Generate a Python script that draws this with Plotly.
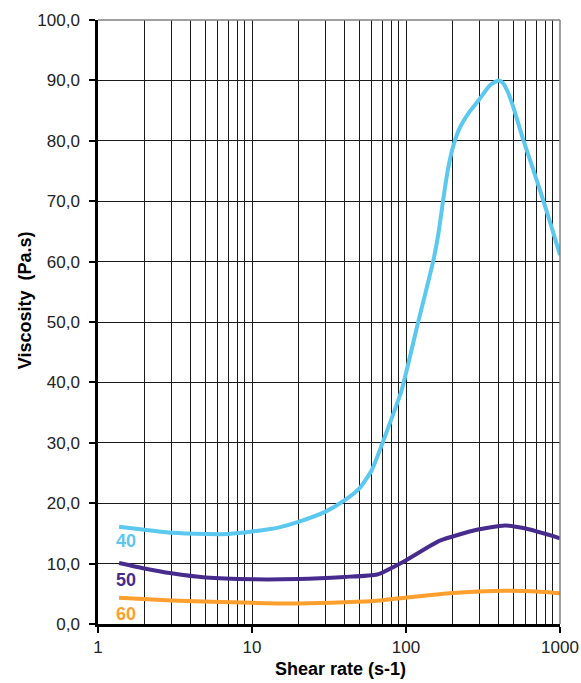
import plotly.graph_objects as go
import math

# ---- data ----
x40 = [1.37, 2, 3, 5, 7, 10, 15, 20, 30, 40, 50, 60, 70, 80, 93.7, 120, 150, 162, 175, 188, 203, 225, 255, 298, 351, 400, 425, 460, 497, 578, 671, 779, 880, 1000]
y40 = [16.1, 15.6, 15.1, 14.9, 14.9, 15.3, 16.0, 16.9, 18.6, 20.5, 22.5, 25.5, 29.8, 33.8, 38.7, 50.0, 60.0, 64.5, 70.5, 75.5, 79.2, 82.3, 84.6, 86.8, 89.2, 90.0, 89.6, 88.0, 85.6, 80.1, 75.2, 70.1, 65.8, 61.1]

x50 = [1.37, 2, 3, 5, 10, 20, 40, 65, 96, 166, 288, 439, 600, 1000]
y50 = [10.1, 9.2, 8.4, 7.7, 7.4, 7.45, 7.8, 8.2, 10.3, 13.8, 15.6, 16.3, 15.8, 14.2]

x60 = [1.37, 3, 10, 20, 40, 68, 101, 192, 450, 700, 1000]
y60 = [4.35, 3.9, 3.5, 3.4, 3.6, 3.9, 4.4, 5.1, 5.5, 5.4, 5.1]

series_names = ["40", "50", "60"]
label_y = [13.8, 7.3, 1.7]
colors = ["#5BC8F0", "#472C8E", "#FF9F2E"]

y_ticks = [0, 10, 20, 30, 40, 50, 60, 70, 80, 90, 100]
y_ticktext = [f"{v:.1f}".replace(".", ",") for v in y_ticks]
x_major = [1, 10, 100, 1000]
x_minor = [m * d for d in (1, 10, 100) for m in range(2, 10)]

FONT = "Liberation Sans, Arial, sans-serif"

fig = go.Figure()
for xs, ys, c, n in zip([x40, x50, x60], [y40, y50, y60], colors, series_names):
    fig.add_trace(go.Scatter(x=xs, y=ys, mode="lines", name=n,
                             line=dict(color=c, width=4, shape="spline", smoothing=0.5),
                             showlegend=False, hoverinfo="skip"))

for n, ly, c in zip(series_names, label_y, colors):
    fig.add_annotation(x=math.log10(1.27), y=ly, xref="x", yref="y", text=f"<b>{n}</b>",
                       showarrow=False, xanchor="left", yanchor="middle",
                       font=dict(family=FONT, size=18, color=c))

fig.update_layout(
    width=581, height=683,
    margin=dict(l=98, r=21, t=20, b=59, autoexpand=False),
    paper_bgcolor="white", plot_bgcolor="white",
    font=dict(family=FONT, size=17, color="#222"),
    xaxis=dict(type="log", range=[0, 3], tickvals=x_major, ticktext=[str(v) for v in x_major],
               ticks="outside", ticklen=6, tickcolor="black", tickwidth=1.5,
               showgrid=True, gridcolor="#1a1a1a", gridwidth=1.3,
               minor=dict(tickvals=x_minor, showgrid=True, gridcolor="#1a1a1a", gridwidth=1.3, ticks=""),
               showline=True, linecolor="black", linewidth=2.5, zeroline=False, automargin=False,
               tickfont=dict(size=17, color="#222")),
    yaxis=dict(range=[0, 100], tickvals=y_ticks, ticktext=y_ticktext,
               ticks="outside", ticklen=6, tickcolor="black", tickwidth=1.5, ticklabelstandoff=6,
               showgrid=True, gridcolor="#1a1a1a", gridwidth=1.3,
               showline=True, linecolor="black", linewidth=2.5, zeroline=False, automargin=False,
               tickfont=dict(size=17, color="#222")),
)

# gray top and right border
fig.add_shape(type="line", xref="paper", yref="paper", x0=0, x1=1, y0=1, y1=1,
              line=dict(color="#808080", width=1.5), layer="above")
fig.add_shape(type="line", xref="paper", yref="paper", x0=1, x1=1, y0=0, y1=1,
              line=dict(color="#808080", width=1.5), layer="above")

fig.add_annotation(xref="paper", yref="paper", x=0.524, y=-0.075, text="<b>Shear rate (s-1)</b>",
                   showarrow=False, xanchor="center", yanchor="middle",
                   font=dict(family=FONT, size=18, color="black"))
fig.add_annotation(xref="paper", yref="paper", x=-0.158, y=0.536, text="<b>Viscosity  (Pa.s)</b>",
                   showarrow=False, textangle=-90, xanchor="center", yanchor="middle",
                   font=dict(family=FONT, size=18, color="black"))

fig.write_html("out.html", config={"displayModeBar": False},
               post_script="document.body.style.margin='0';document.body.style.overflow='hidden';")
